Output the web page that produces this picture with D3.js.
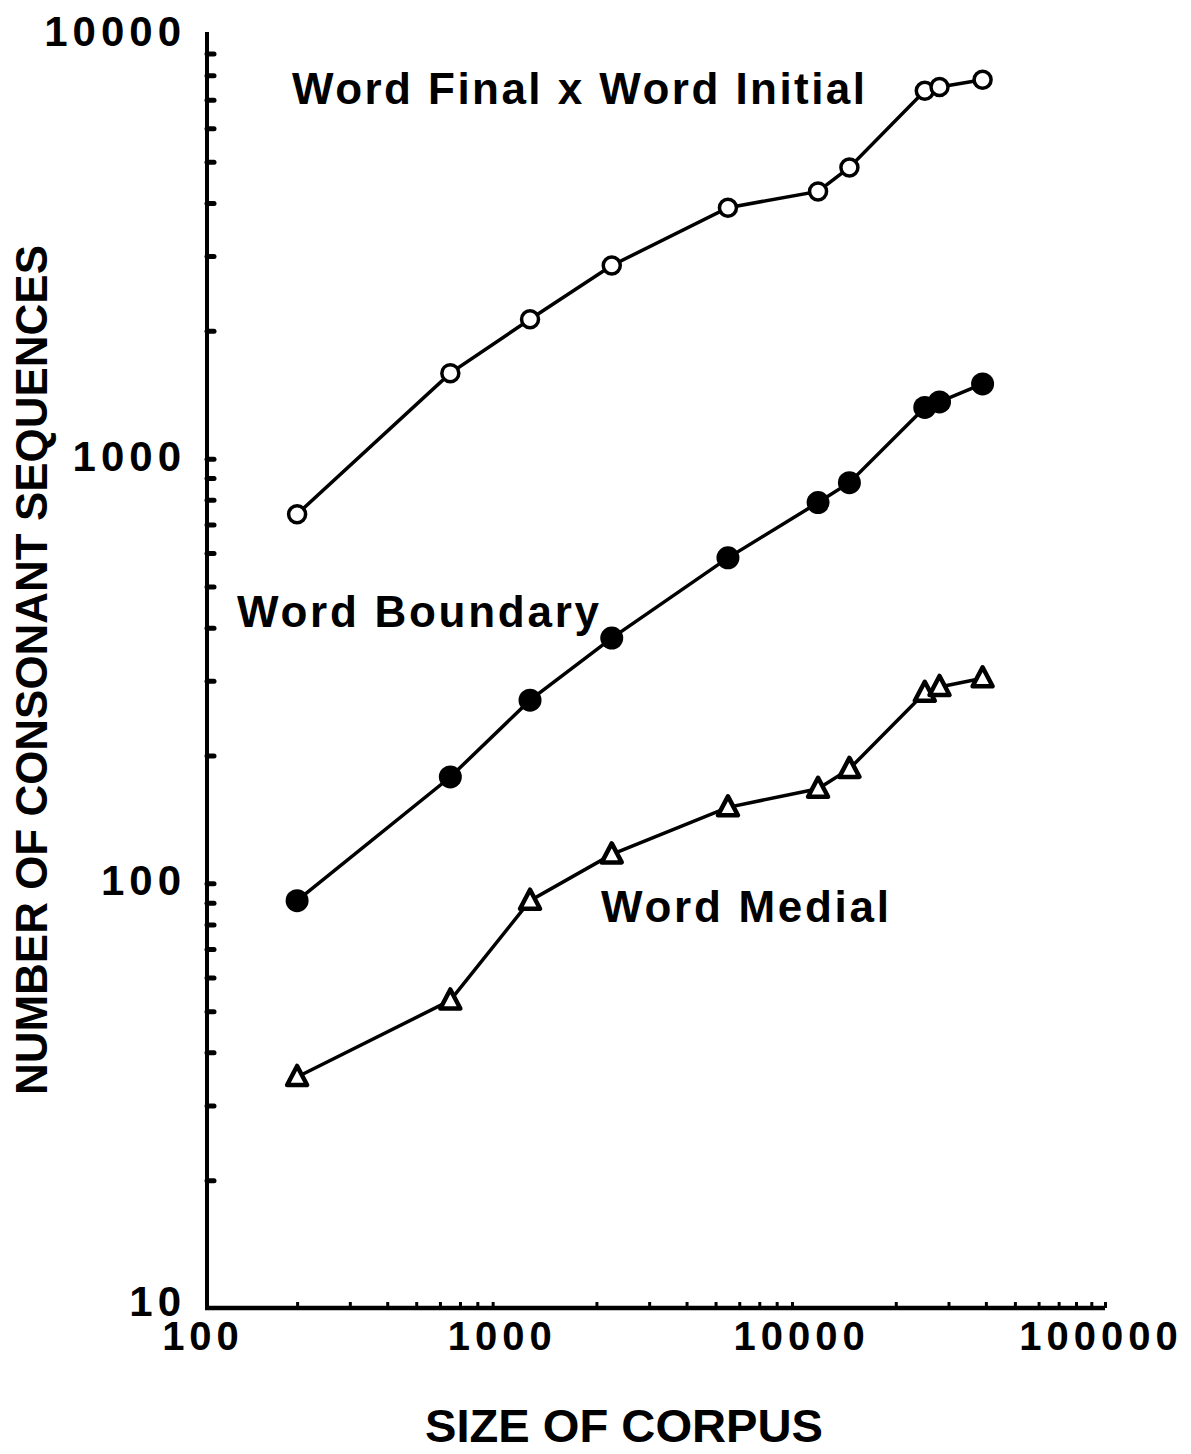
<!DOCTYPE html>
<html>
<head>
<meta charset="utf-8">
<script src="https://cdn.jsdelivr.net/npm/d3@7"></script>
<style>
  body { margin: 0; background: #fff; }
  text { font-family: "Liberation Sans", Arial, sans-serif; font-weight: bold; fill: #000; }
</style>
</head>
<body>
<div id="chart"></div>
<script>
// corpus sizes (x) shared by all three series
const corpusSizes = [200, 650, 1200, 2250, 5500, 11000, 14000, 25000, 28000, 39000];
const finalInitial = [740, 1590, 2130, 2850, 3900, 4260, 4850, 7350, 7500, 7800];
const boundary = [91, 178, 270, 378, 584, 788, 878, 1320, 1360, 1500];
const medial = [35, 53, 91, 117, 151, 167, 186, 281, 290, 304];
const xTickLabels = [100, 1000, 10000, 100000];
const yTickLabels = [10, 100, 1000, 10000];

const width = 1191;
const height = 1454;
const margin = { top: 34, right: 86, bottom: 146, left: 207 };

const svg = d3.select('#chart')
    .append('svg')
    .attr('width', width)
    .attr('height', height);

const x = d3.scaleLog()
    .domain([100, 100000])
    .range([margin.left, width - margin.right]);

const y = d3.scaleLog()
    .domain([10, 10000])
    .range([height - margin.bottom, margin.top]);

// minor ticks, 2..9 of each decade
const minor = (lo, hi) => {
    const out = [];
    for (let d = lo; d < hi; d *= 10) {
        for (let k = 2; k <= 9; k++) out.push(d * k);
    }
    return out;
};

// y axis, ticks pointing inward
const yAxis = svg.append('g')
    .attr('transform', 'translate(' + margin.left + ',0)')
    .call(d3.axisLeft(y).tickValues(minor(10, 10000).concat([100, 1000])).tickSize(-7).tickFormat(''));
yAxis.select('.domain').attr('stroke-width', 4).attr('d', 'M0,' + y(10) + 'V' + (y(10000) - 2));
yAxis.selectAll('.tick line').attr('stroke-width', 5).attr('stroke-linecap', 'round');

// x axis, ticks pointing upward
const xAxis = svg.append('g')
    .attr('transform', 'translate(0,' + y(10) + ')')
    .call(d3.axisBottom(x).tickValues(minor(100, 100000).concat([100000])).tickSize(-6).tickFormat(''));
xAxis.select('.domain').attr('stroke-width', 4.5).attr('d', 'M' + (x(100) - 2) + ',0H' + x(100000));
xAxis.selectAll('.tick line').attr('stroke-width', 3);

// tick labels
svg.append('g').selectAll('text')
    .data(yTickLabels)
    .join('text')
    .attr('x', 186)
    .attr('y', d => y(d) + (d === 10 ? 8 : 12))
    .attr('text-anchor', 'end')
    .attr('font-size', 42)
    .attr('letter-spacing', 5)
    .text(d => d);

svg.append('g').selectAll('text')
    .data(xTickLabels)
    .join('text')
    .attr('x', d => x(d) - 4)
    .attr('y', y(10) + 42)
    .attr('text-anchor', 'middle')
    .attr('font-size', 40)
    .attr('letter-spacing', 5)
    .text(d => d);

// axis titles
svg.append('text')
    .attr('x', 624)
    .attr('y', 1442)
    .attr('text-anchor', 'middle')
    .attr('font-size', 47)
    .attr('textLength', 398)
    .attr('lengthAdjust', 'spacingAndGlyphs')
    .text('SIZE OF CORPUS');

svg.append('text')
    .attr('transform', 'translate(47,670) rotate(-90)')
    .attr('text-anchor', 'middle')
    .attr('font-size', 45)
    .attr('textLength', 850)
    .attr('lengthAdjust', 'spacingAndGlyphs')
    .text('NUMBER OF CONSONANT SEQUENCES');

// series lines
const line = d3.line()
    .x((d, i) => x(corpusSizes[i]))
    .y(d => y(d));

[finalInitial, boundary, medial].forEach(s => {
    svg.append('path')
        .datum(s)
        .attr('fill', 'none')
        .attr('stroke', '#000')
        .attr('stroke-width', 3.5)
        .attr('d', line);
});

// open circles
svg.append('g').selectAll('circle')
    .data(finalInitial)
    .join('circle')
    .attr('cx', (d, i) => x(corpusSizes[i]))
    .attr('cy', d => y(d))
    .attr('r', 8.5)
    .attr('fill', '#fff')
    .attr('stroke', '#000')
    .attr('stroke-width', 3.5);

// filled circles
svg.append('g').selectAll('circle')
    .data(boundary)
    .join('circle')
    .attr('cx', (d, i) => x(corpusSizes[i]))
    .attr('cy', d => y(d))
    .attr('r', 11.5)
    .attr('fill', '#000');

// open triangles
svg.append('g').selectAll('path')
    .data(medial)
    .join('path')
    .attr('transform', (d, i) => 'translate(' + x(corpusSizes[i]) + ',' + y(d) + ')')
    .attr('d', 'M0,-11L10,8L-10,8Z')
    .attr('fill', '#fff')
    .attr('stroke', '#000')
    .attr('stroke-width', 4.5)
    .attr('stroke-linejoin', 'round');

// series labels
svg.append('text')
    .attr('x', 292).attr('y', 104)
    .attr('font-size', 44)
    .attr('textLength', 573)
    .text('Word Final x Word Initial');

svg.append('text')
    .attr('x', 237).attr('y', 627)
    .attr('font-size', 44)
    .attr('textLength', 362)
    .text('Word Boundary');

svg.append('text')
    .attr('x', 601).attr('y', 922)
    .attr('font-size', 44)
    .attr('textLength', 288)
    .text('Word Medial');
</script>
</body>
</html>
